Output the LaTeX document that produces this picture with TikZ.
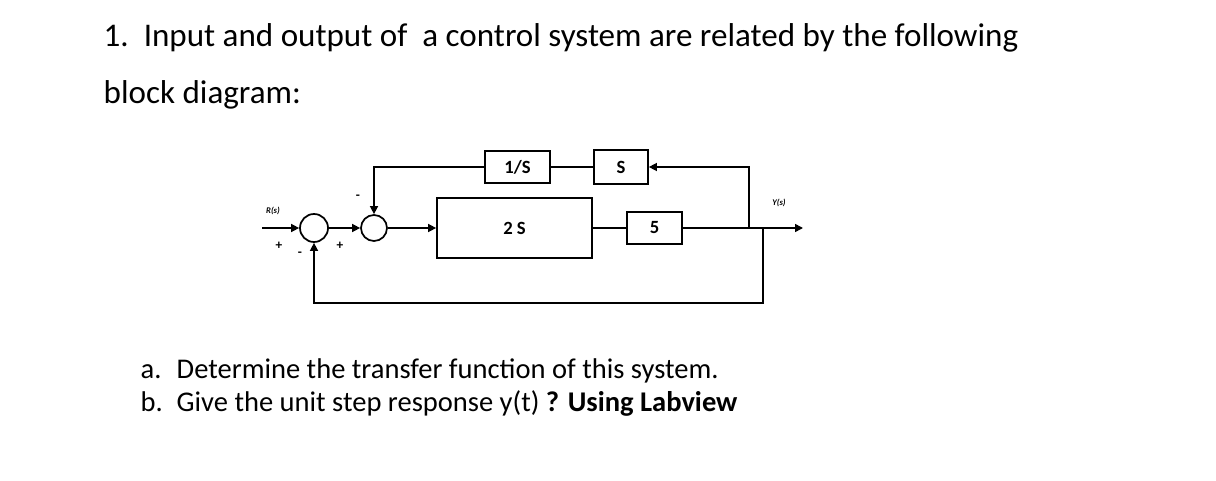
\documentclass[tikz,border=0pt]{standalone}
\usepackage{fontspec}
\setmainfont{Carlito}
\usetikzlibrary{arrows.meta}
\begin{document}
\begin{tikzpicture}[x=0.75pt,y=-0.75pt,line width=1.1pt,
  blk/.style={draw,line width=1.3pt,inner sep=0pt,font=\fontsize{14}{14}\selectfont\bfseries},
  sumc/.style={draw,circle,inner sep=0pt,line width=1.3pt},
  arr/.style={-{Triangle[length=6pt,width=6pt]}},
  sgn/.style={inner sep=0pt,font=\fontsize{10}{10}\selectfont\bfseries},
  lbl/.style={inner sep=0pt,font=\fontsize{6.5}{6.5}\selectfont\itshape\bfseries},
  txt/.style={anchor=west,inner sep=0pt,font=\fontsize{24.8}{24.8}\selectfont},
  itm/.style={anchor=west,inner sep=0pt,font=\fontsize{21.4}{21.4}\selectfont}]
\useasboundingbox (0,0) rectangle (1216,481);
\fill[white] (0,0) rectangle (1216,481);
% text
\node[txt] (t1) at (103,38) {1.\ \ Input and output of\ \ a control system are related by the following};
\node[txt] (t2) at (103,95) {block diagram:};
\node[itm] (qa) at (140,371) {\makebox[27pt][l]{a.}Determine the transfer function of this system.};
\node[itm] (qb) at (140,403) {\makebox[27pt][l]{b.}Give the unit step response y(t) \textbf{? Using Labview}};
% blocks
\node[blk,minimum width=48.75pt,minimum height=24.5pt] (g1s) at (517.5,167) {1/S};
\node[blk,minimum width=40.5pt,minimum height=25.5pt] (gS) at (621,167) {S};
\node[blk,minimum width=116.25pt,minimum height=45pt] (g2s) at (514.5,228) {2 S};
\node[blk,minimum width=41.25pt,minimum height=24pt] (g5) at (654.5,228) {5};
% summing points
\node[sumc,minimum size=21pt] (s1) at (314,228) {};
\node[sumc,minimum size=19.5pt] (s2) at (374,228) {};
% coordinates
\coordinate (in) at (262,228);
\coordinate (out) at (803,228);
\coordinate (b1) at (749,228);
\coordinate (b2) at (763,228);
\coordinate (fb) at (763,303);
% connectors
\draw[arr] (in) -- (s1);
\draw[arr] (s1) -- (s2);
\draw[arr] (s2) -- (g2s);
\draw (g2s) -- (g5);
\draw[arr] (g5) -- (out);
\draw[arr] (b1) |- (gS.east);
\draw (gS) -- (g1s);
\draw[arr] (g1s.west) -| (s2.north);
\draw[arr] (b2) -- (fb) -| (s1.south);
% signs and labels
\node[sgn] (p1) at (279,246) {+};
\node[sgn] (p2) at (340,246) {+};
\node[sgn] (m1) at (300,254) {-};
\node[sgn] (m2) at (358,197) {-};
\node[lbl] (rs) at (273,211) {R(s)};
\node[lbl] (ys) at (779,203) {Y(s)};
\end{tikzpicture}
\end{document}
